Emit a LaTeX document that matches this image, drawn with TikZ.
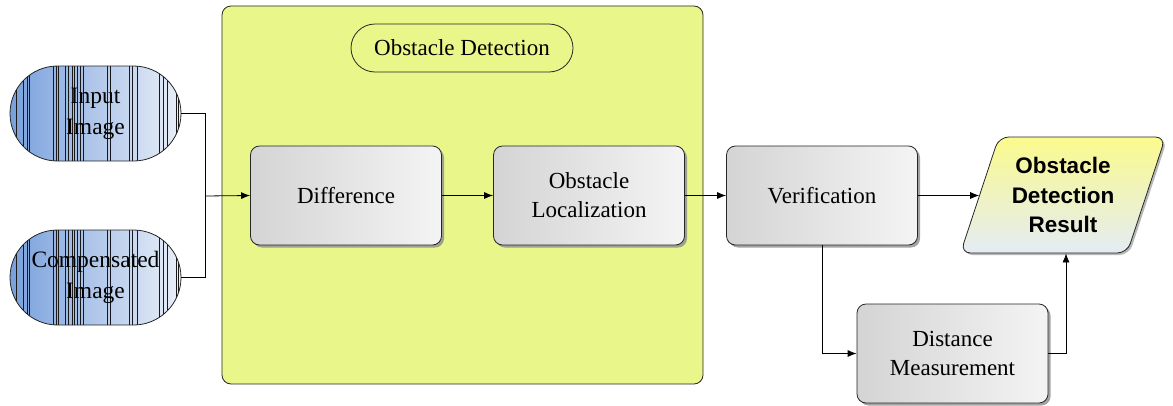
\documentclass[tikz,border=0pt]{standalone}
\usepackage{fontspec}
\setmainfont{Liberation Serif}
\newfontfamily\sansbold{Liberation Sans}
\usetikzlibrary{shapes.misc,shapes.geometric,shadows,arrows.meta}
\definecolor{panelgreen}{RGB}{232,246,138}
\definecolor{pillblue}{RGB}{120,160,220}
\definecolor{pilllight}{RGB}{234,239,248}
\definecolor{boxdark}{RGB}{212,212,212}
\definecolor{boxlight}{RGB}{244,244,244}
\definecolor{resyellow}{RGB}{250,250,140}
\definecolor{resblue}{RGB}{228,236,244}
\tikzset{
  lbl/.style={font=\fontsize{23}{29}\selectfont, align=center},
  stepbox/.style={lbl, draw=black!85, line width=0.8pt, rounded corners=9pt,
    minimum width=191pt, minimum height=99pt,
    left color=boxdark, right color=boxlight,
    drop shadow={shadow xshift=2.5pt, shadow yshift=-2.5pt, fill=black!45, opacity=0.8}},
  pill/.style={lbl, draw=black!85, line width=0.8pt, rounded rectangle,
    minimum width=171pt, minimum height=95pt, inner sep=0pt,
    left color=pillblue, right color=pilllight,
    path picture={
      \foreach \s in {6,13,17,19,43,46,48,55,58,62,64,67,70,73,97,100,119,122,127,149,153,157,166,168}
        \draw[black!90, line width=0.45pt]
          ([xshift=\s pt]path picture bounding box.south west) --
          ([xshift=\s pt]path picture bounding box.north west);}},
  link/.style={draw=black, line width=0.8pt},
  arr/.style={link, -{Latex[length=9pt,width=7pt]}},
}
\begin{document}
\begin{tikzpicture}[x=1pt, y=-1pt]
\useasboundingbox (0,0) rectangle (1173,405);

% processing panel
\node[draw=black!85, line width=0.8pt, fill=panelgreen, rounded corners=9pt,
      minimum width=481pt, minimum height=378pt] (panel) at (462.5,195) {};
\node[lbl, draw=black!85, line width=0.8pt, fill=panelgreen, rounded rectangle,
      minimum width=222pt, minimum height=48pt, inner sep=0pt] (title) at (462,48)
      {Obstacle Detection};

% inputs
\node[pill, font=\fontsize{23.5}{31}\selectfont] (input) at (95.5,113.5) {Input\\Image};
\node[pill, font=\fontsize{23.5}{31}\selectfont] (comp) at (95.5,277.5) {Compensated\\Image};

% processing steps
\node[stepbox] (diff) at (346,195.5) {Difference};
\node[stepbox] (loc) at (589,195.5) {Obstacle\\Localization};
\node[stepbox] (ver) at (822,195.5) {Verification};
\node[stepbox] (dist) at (952.5,353.5) {Distance\\Measurement};

% result
\node[draw=black!85, line width=0.8pt, trapezium, trapezium left angle=65,
      trapezium right angle=115, trapezium stretches body,
      minimum width=205pt, minimum height=116pt, rounded corners=10pt,
      top color=resyellow, bottom color=resblue,
      drop shadow={shadow xshift=2pt, shadow yshift=-2pt, fill=black!40, opacity=0.7},
      font=\sansbold\bfseries\fontsize{22.5}{29.5}\selectfont, align=center]
      (res) at (1063,195) {Obstacle\\Detection\\Result};

% connectors
\coordinate (join) at (205,196);
\draw[link] (input.east) -| (join);
\draw[link] (comp.east) -| (join);
\draw[arr] (join) -- (diff.west);
\draw[arr] (diff.east) -- (loc.west);
\draw[arr] (loc.east) -- (ver.west);
\draw[arr] (ver.east) -- (ver.east -| res.west);
\draw[arr] (ver.south) |- (dist.west);
\draw[arr] (dist.east) -| ([xshift=3pt]res.south);
\end{tikzpicture}
\end{document}
